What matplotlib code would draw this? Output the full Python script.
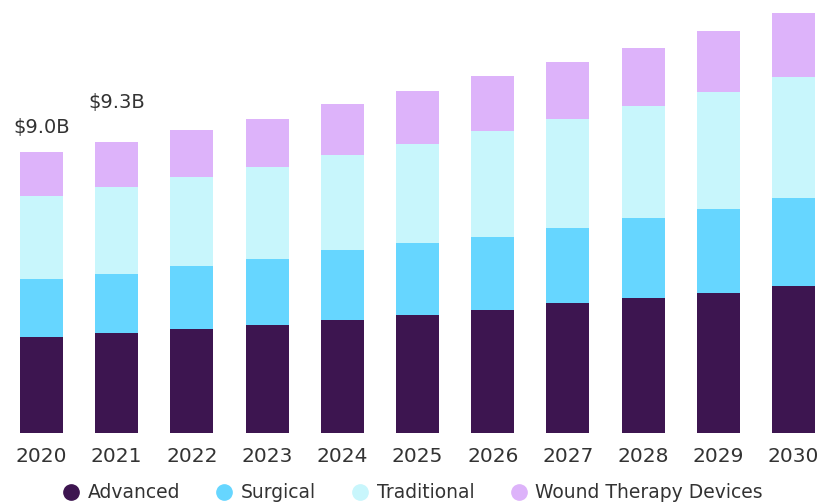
import numpy as np
import matplotlib
matplotlib.use("Agg")
import matplotlib.pyplot as plt
from matplotlib.lines import Line2D

years = ['2020', '2021', '2022', '2023', '2024', '2025', '2026', '2027', '2028', '2029', '2030']
advanced = [3.07, 3.20, 3.33, 3.46, 3.62, 3.78, 3.94, 4.16, 4.32, 4.48, 4.71]
surgical = [1.86, 1.89, 2.02, 2.11, 2.24, 2.31, 2.34, 2.40, 2.56, 2.69, 2.82]
traditional = [2.66, 2.79, 2.85, 2.95, 3.04, 3.17, 3.40, 3.49, 3.59, 3.75, 3.88]
wound_therapy = [1.41, 1.44, 1.51, 1.54, 1.63, 1.70, 1.76, 1.83, 1.86, 1.95, 2.05]
value_labels = {0: '$9.0B', 1: '$9.3B'}

segments = ['Advanced', 'Surgical', 'Traditional', 'Wound Therapy Devices']
colors = ['#3d1550', '#66d6ff', '#c8f6fc', '#ddb3fa']

plt.rcParams['font.family'] = ['DejaVu Sans']

fig = plt.figure(figsize=(8.21, 5.04), dpi=100)
ax = fig.add_axes([0, 0.1409, 1, 0.8591])

x = np.arange(len(years))
bottom = np.zeros(len(years))
for vals, c in zip([advanced, surgical, traditional, wound_therapy], colors):
    ax.bar(x, vals, width=0.572, bottom=bottom, color=c, linewidth=0)
    bottom = bottom + np.array(vals)

# total labels on the first two bars
offsets = {0: 25, 1: 40}
for i, txt in value_labels.items():
    ax.annotate(txt, (x[i], bottom[i]), xytext=(0, offsets[i]), textcoords='offset pixels',
                ha='center', va='center', fontsize=14, color='#333333')

ax.set_xlim(-0.552, 10.366)
ax.set_ylim(0, 13.87)
ax.set_xticks(x)
ax.set_xticklabels(years, fontsize=14.5, color='#333333')
ax.tick_params(axis='x', length=0, pad=10)
ax.set_yticks([])
for s in ax.spines.values():
    s.set_visible(False)

handles = [Line2D([], [], marker='o', linestyle='none', markersize=11,
                  markerfacecolor=c, markeredgecolor=c) for c in colors]
fig.legend(handles, segments, loc='center', bbox_to_anchor=(0.502, 0.022), ncol=4,
           frameon=False, fontsize=13.5, handlelength=1.0, handletextpad=0.4,
           columnspacing=1.85, labelcolor='#333333')

plt.savefig('out.png', dpi=100)
